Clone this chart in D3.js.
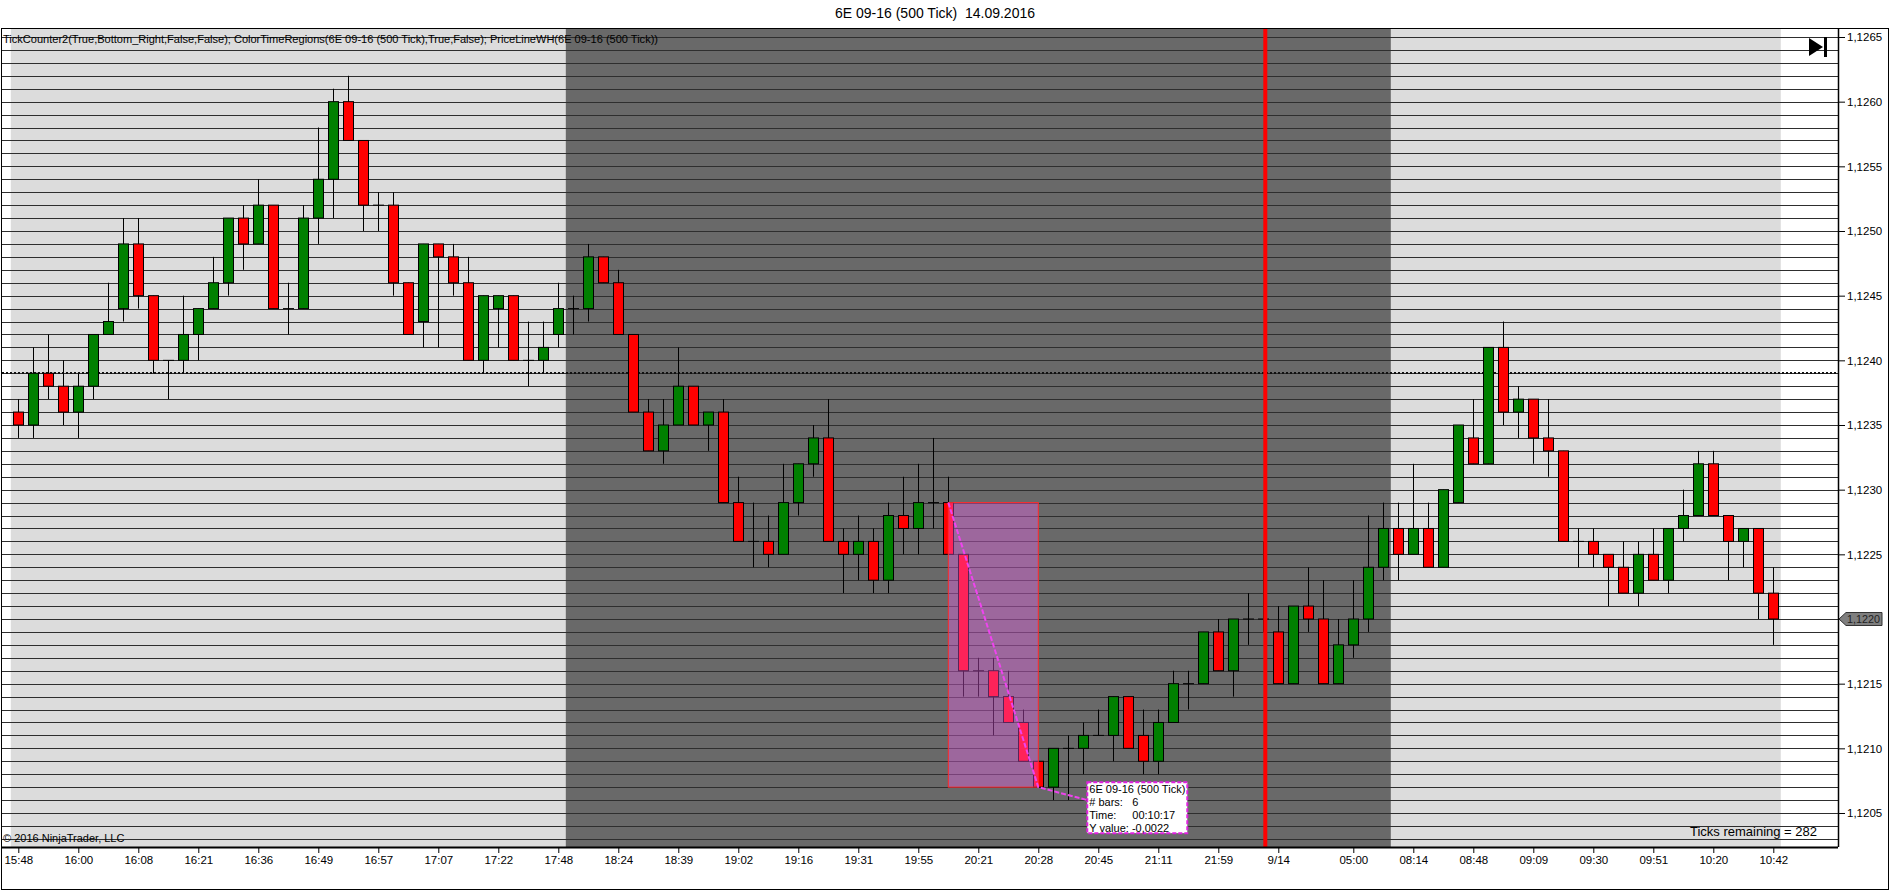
<!DOCTYPE html>
<html>
<head>
<meta charset="utf-8">
<script src="https://cdn.jsdelivr.net/npm/d3@7"></script>
<style>
  body { margin: 0; background: #fff; }
  svg text { font-family: "Liberation Sans", Arial, sans-serif; }
</style>
</head>
<body>
<svg id="chart" width="1892" height="892"></svg>
<script>
// 500 tick bars, 6E 09-16
const openPrices = [
  1.1236, 1.1235, 1.1239, 1.1238, 1.1236, 1.1238, 1.1242, 1.1244, 1.1249, 1.1245,
  1.1240, 1.1240, 1.1242, 1.1244, 1.1246, 1.1251, 1.1249, 1.1252, 1.1244, 1.1244,
  1.1251, 1.1254, 1.1260, 1.1257, 1.1252, 1.1252, 1.1246, 1.1243, 1.1249, 1.1248,
  1.1246, 1.1240, 1.1244, 1.1245, 1.1240, 1.1240, 1.1242, 1.1244, 1.1244, 1.1248,
  1.1246, 1.1242, 1.1236, 1.1233, 1.1235, 1.1238, 1.1235, 1.1236, 1.1229, 1.1226,
  1.1226, 1.1225, 1.1229, 1.1232, 1.1234, 1.1226, 1.1225, 1.1226, 1.1223, 1.1228,
  1.1227, 1.1229, 1.1229, 1.1225, 1.1216, 1.1216, 1.1214, 1.1212, 1.1209, 1.1207,
  1.1210, 1.1210, 1.1211, 1.1211, 1.1214, 1.1211, 1.1209, 1.1212, 1.1215, 1.1215,
  1.1219, 1.1216, 1.1220, 1.1220, 1.1219, 1.1215, 1.1221, 1.1220, 1.1215, 1.1218,
  1.1220, 1.1224, 1.1227, 1.1225, 1.1227, 1.1224, 1.1229, 1.1234, 1.1232, 1.1241,
  1.1236, 1.1237, 1.1234, 1.1233, 1.1226, 1.1226, 1.1225, 1.1224, 1.1222, 1.1225,
  1.1223, 1.1227, 1.1228, 1.1232, 1.1228, 1.1226, 1.1227, 1.1222
];
const highPrices = [
  1.1237, 1.1241, 1.1242, 1.1240, 1.1239, 1.1242, 1.1246, 1.1251, 1.1251, 1.1245,
  1.1240, 1.1245, 1.1244, 1.1248, 1.1251, 1.1252, 1.1254, 1.1252, 1.1246, 1.1252,
  1.1258, 1.1261, 1.1262, 1.1257, 1.1253, 1.1253, 1.1246, 1.1249, 1.1249, 1.1249,
  1.1248, 1.1245, 1.1245, 1.1245, 1.1243, 1.1243, 1.1246, 1.1245, 1.1249, 1.1248,
  1.1247, 1.1242, 1.1237, 1.1237, 1.1241, 1.1238, 1.1236, 1.1237, 1.1231, 1.1229,
  1.1228, 1.1232, 1.1232, 1.1235, 1.1237, 1.1227, 1.1228, 1.1227, 1.1229, 1.1231,
  1.1232, 1.1234, 1.1231, 1.1225, 1.1217, 1.1217, 1.1216, 1.1213, 1.1209, 1.1210,
  1.1211, 1.1212, 1.1213, 1.1214, 1.1214, 1.1213, 1.1213, 1.1216, 1.1216, 1.1219,
  1.1220, 1.1220, 1.1222, 1.1226, 1.1221, 1.1221, 1.1224, 1.1223, 1.1220, 1.1223,
  1.1228, 1.1229, 1.1229, 1.1232, 1.1229, 1.1230, 1.1235, 1.1237, 1.1241, 1.1243,
  1.1238, 1.1237, 1.1237, 1.1233, 1.1227, 1.1227, 1.1225, 1.1226, 1.1226, 1.1227,
  1.1227, 1.1230, 1.1233, 1.1233, 1.1228, 1.1227, 1.1227, 1.1224
];
const lowPrices = [
  1.1234, 1.1234, 1.1237, 1.1235, 1.1234, 1.1237, 1.1242, 1.1243, 1.1244, 1.1239,
  1.1237, 1.1239, 1.1240, 1.1244, 1.1245, 1.1247, 1.1249, 1.1244, 1.1242, 1.1244,
  1.1249, 1.1251, 1.1257, 1.1250, 1.1250, 1.1245, 1.1242, 1.1241, 1.1241, 1.1245,
  1.1240, 1.1239, 1.1241, 1.1240, 1.1238, 1.1239, 1.1241, 1.1242, 1.1243, 1.1246,
  1.1242, 1.1236, 1.1233, 1.1232, 1.1235, 1.1235, 1.1233, 1.1229, 1.1226, 1.1224,
  1.1224, 1.1225, 1.1228, 1.1231, 1.1226, 1.1222, 1.1223, 1.1222, 1.1222, 1.1225,
  1.1225, 1.1227, 1.1225, 1.1214, 1.1214, 1.1211, 1.1212, 1.1209, 1.1207, 1.1206,
  1.1206, 1.1208, 1.1211, 1.1209, 1.1210, 1.1208, 1.1208, 1.1212, 1.1213, 1.1215,
  1.1216, 1.1214, 1.1218, 1.1219, 1.1215, 1.1215, 1.1219, 1.1215, 1.1215, 1.1217,
  1.1219, 1.1223, 1.1223, 1.1225, 1.1224, 1.1224, 1.1229, 1.1232, 1.1232, 1.1235,
  1.1234, 1.1232, 1.1231, 1.1226, 1.1224, 1.1224, 1.1221, 1.1222, 1.1221, 1.1223,
  1.1222, 1.1226, 1.1228, 1.1228, 1.1223, 1.1224, 1.1220, 1.1218
];
const closePrices = [
  1.1235, 1.1239, 1.1238, 1.1236, 1.1238, 1.1242, 1.1243, 1.1249, 1.1245, 1.1240,
  1.1240, 1.1242, 1.1244, 1.1246, 1.1251, 1.1249, 1.1252, 1.1244, 1.1244, 1.1251,
  1.1254, 1.1260, 1.1257, 1.1252, 1.1252, 1.1246, 1.1242, 1.1249, 1.1248, 1.1246,
  1.1240, 1.1245, 1.1245, 1.1240, 1.1240, 1.1241, 1.1244, 1.1244, 1.1248, 1.1246,
  1.1242, 1.1236, 1.1233, 1.1235, 1.1238, 1.1235, 1.1236, 1.1229, 1.1226, 1.1226,
  1.1225, 1.1229, 1.1232, 1.1234, 1.1226, 1.1225, 1.1226, 1.1223, 1.1228, 1.1227,
  1.1229, 1.1229, 1.1225, 1.1216, 1.1216, 1.1214, 1.1212, 1.1209, 1.1207, 1.1210,
  1.1210, 1.1211, 1.1211, 1.1214, 1.1210, 1.1209, 1.1212, 1.1215, 1.1215, 1.1219,
  1.1216, 1.1220, 1.1220, 1.1220, 1.1215, 1.1221, 1.1220, 1.1215, 1.1218, 1.1220,
  1.1224, 1.1227, 1.1225, 1.1227, 1.1224, 1.1230, 1.1235, 1.1232, 1.1241, 1.1236,
  1.1237, 1.1234, 1.1233, 1.1226, 1.1226, 1.1225, 1.1224, 1.1222, 1.1225, 1.1223,
  1.1227, 1.1228, 1.1232, 1.1228, 1.1226, 1.1227, 1.1222, 1.1220
];

// x axis labels sit on these bar numbers
const xTickBars = [0, 4, 8, 12, 16, 20, 24, 28, 32, 36, 40, 44, 48, 52, 56, 60, 64, 68, 72, 76, 80,
  84, 89, 93, 97, 101, 105, 109, 113, 117];
const xTickLabels = ['15:48', '16:00', '16:08', '16:21', '16:36', '16:49', '16:57', '17:07', '17:22', '17:48',
  '18:24', '18:39', '19:02', '19:16', '19:31', '19:55', '20:21', '20:28', '20:45', '21:11', '21:59',
  '9/14', '05:00', '08:14', '08:48', '09:09', '09:30', '09:51', '10:20', '10:42'];
const yTicks = [1.1205, 1.1210, 1.1215, 1.1220, 1.1225, 1.1230, 1.1235, 1.1240, 1.1245, 1.1250, 1.1255, 1.1260, 1.1265];

// session shading (bar ranges), session break, ruler, price lines
const nightSession = [37, 91];
const sessionBreakBar = 83;
const rulerBars = [62, 68];
const rulerPrices = [1.1229, 1.1207];
const priceLine = 1.1239;
const lastPrice = 1.1220;
const tooltipLines = ['6E 09-16 (500 Tick)', '# bars:', 'Time:', 'Y value: -0,0022'];
const tooltipValues = ['', '6', '00:10:17', ''];

const bars = openPrices.map((o, i) => ({
  i: i, open: o, high: highPrices[i], low: lowPrices[i], close: closePrices[i]
}));

const plot = { left: 2, right: 1838, top: 28, bottom: 847 };
const svg = d3.select('#chart');

const x = d3.scaleLinear().domain([-0.5, bars.length - 0.5]).range([10.8, 1780.8]);
const y = d3.scaleLinear().domain([1.1205, 1.1265]).range([813, 37]);
const fmt = d => d.toFixed(4).replace('.', ',');

// title
svg.append('text')
  .attr('x', 935).attr('y', 18)
  .attr('text-anchor', 'middle')
  .style('font-size', '14px')
  .style('white-space', 'pre')
  .text('6E 09-16 (500 Tick)  14.09.2016');

// background regions
svg.append('rect')
  .attr('x', x(-0.5)).attr('y', plot.top)
  .attr('width', x(bars.length - 0.5) - x(-0.5)).attr('height', plot.bottom - plot.top)
  .attr('fill', '#dcdcdc');
svg.append('rect')
  .attr('x', x(nightSession[0] - 0.5)).attr('y', plot.top)
  .attr('width', x(nightSession[1] + 0.5) - x(nightSession[0] - 0.5)).attr('height', plot.bottom - plot.top)
  .attr('fill', '#696969');

// one grid line per pip
const gridPrices = d3.range(11203, 11266).map(v => v / 10000);
svg.selectAll('line.grid')
  .data(gridPrices)
  .enter()
  .append('line')
  .attr('class', 'grid')
  .attr('x1', plot.left).attr('x2', plot.right)
  .attr('y1', d => Math.round(y(d)) + 0.5).attr('y2', d => Math.round(y(d)) + 0.5)
  .attr('stroke', '#2e2e2e')
  .attr('stroke-width', 1);

svg.append('line')
  .attr('x1', plot.left).attr('x2', plot.right)
  .attr('y1', Math.round(y(priceLine))).attr('y2', Math.round(y(priceLine)))
  .attr('stroke', '#111')
  .attr('stroke-width', 2)
  .attr('stroke-dasharray', '2,2');

// candles
const candles = svg.append('g');
candles.selectAll('line.wick')
  .data(bars)
  .enter()
  .append('line')
  .attr('class', 'wick')
  .attr('x1', d => Math.round(x(d.i)) + 0.5).attr('x2', d => Math.round(x(d.i)) + 0.5)
  .attr('y1', d => y(d.high)).attr('y2', d => y(d.low))
  .attr('stroke', '#000');

candles.selectAll('rect.body')
  .data(bars.filter(d => d.open !== d.close))
  .enter()
  .append('rect')
  .attr('class', 'body')
  .attr('x', d => Math.round(x(d.i)) - 4.5)
  .attr('y', d => y(Math.max(d.open, d.close)))
  .attr('width', 10)
  .attr('height', d => Math.abs(y(d.open) - y(d.close)))
  .attr('fill', d => d.close > d.open ? '#008000' : '#ff0000')
  .attr('stroke', '#000')
  .attr('stroke-width', 1);

candles.selectAll('line.doji')
  .data(bars.filter(d => d.open === d.close))
  .enter()
  .append('line')
  .attr('class', 'doji')
  .attr('x1', d => Math.round(x(d.i)) - 5).attr('x2', d => Math.round(x(d.i)) + 6)
  .attr('y1', d => y(d.close)).attr('y2', d => y(d.close))
  .attr('stroke', '#000');

// session break
svg.append('line')
  .attr('x1', x(sessionBreakBar) + 2).attr('x2', x(sessionBreakBar) + 2)
  .attr('y1', plot.top).attr('y2', plot.bottom)
  .attr('stroke', '#f00')
  .attr('stroke-width', 4);

// ruler drawing
const rx0 = x(rulerBars[0]), rx1 = x(rulerBars[1]);
const ry0 = y(rulerPrices[0]), ry1 = y(rulerPrices[1]);
svg.append('rect')
  .attr('x', rx0).attr('y', ry0)
  .attr('width', rx1 - rx0).attr('height', ry1 - ry0)
  .attr('fill', 'rgba(255,100,255,0.35)')
  .attr('stroke', '#ff2a2a')
  .attr('stroke-width', 1);

const tipX = rx1 + 49, tipY = ry1 - 5;
svg.append('polyline')
  .attr('points', [[rx0, ry0], [rx1, ry1], [tipX, ry1 + 13]].map(p => p.join(',')).join(' '))
  .attr('fill', 'none')
  .attr('stroke', '#ee44ee')
  .attr('stroke-width', 2)
  .attr('stroke-dasharray', '5,2');

svg.append('rect')
  .attr('x', tipX).attr('y', tipY)
  .attr('width', 100).attr('height', 51)
  .attr('fill', '#fff')
  .attr('stroke', '#e020e0')
  .attr('stroke-width', 2)
  .attr('stroke-dasharray', '4,2');

svg.selectAll('text.tip')
  .data(tooltipLines)
  .enter()
  .append('text')
  .attr('class', 'tip')
  .attr('x', tipX + 2)
  .attr('y', (d, i) => tipY + 11 + i * 13)
  .style('font-size', '11px')
  .text(d => d);
svg.selectAll('text.tipval')
  .data(tooltipValues)
  .enter()
  .append('text')
  .attr('class', 'tipval')
  .attr('x', tipX + 45)
  .attr('y', (d, i) => tipY + 11 + i * 13)
  .style('font-size', '11px')
  .text(d => d);

// texts inside the panel
svg.append('text')
  .attr('x', 3).attr('y', 43)
  .attr('textLength', 655)
  .attr('lengthAdjust', 'spacingAndGlyphs')
  .style('font-size', '11px')
  .text('TickCounter2(True,Bottom_Right,False,False); ColorTimeRegions(6E 09-16 (500 Tick),True,False); PriceLineWH(6E 09-16 (500 Tick))');

svg.append('text')
  .attr('x', 3).attr('y', 842)
  .style('font-size', '11px')
  .text('\u00a9 2016 NinjaTrader, LLC');

svg.append('text')
  .attr('x', 1817).attr('y', 836)
  .attr('text-anchor', 'end')
  .style('font-size', '13px')
  .text('Ticks remaining = 282');

// "go to end" icon
svg.append('path')
  .attr('d', 'M1809,38 L1823,47 L1809,56 Z')
  .attr('fill', '#000');
svg.append('rect')
  .attr('x', 1824).attr('y', 37).attr('width', 3).attr('height', 20)
  .attr('fill', '#000');

// axes
const yAxis = d3.axisRight(y)
  .tickValues(yTicks)
  .tickFormat(fmt)
  .tickSize(7)
  .tickPadding(2);
const gy = svg.append('g')
  .attr('transform', `translate(${plot.right},0)`)
  .call(yAxis);
gy.select('.domain').remove();
gy.selectAll('text').style('font-size', '11.5px').attr('fill', '#000');

const xAxis = d3.axisBottom(x)
  .tickValues(xTickBars)
  .tickFormat((d, i) => xTickLabels[i])
  .tickSize(6)
  .tickPadding(3);
const gx = svg.append('g')
  .attr('transform', `translate(0,${plot.bottom})`)
  .call(xAxis);
gx.select('.domain').remove();
gx.selectAll('text').style('font-size', '11.5px').attr('fill', '#000');

// last price marker
const ly = y(lastPrice);
svg.append('path')
  .attr('d', `M${plot.right + 1},${ly} L${plot.right + 8},${ly - 6.5} L${plot.right + 44},${ly - 6.5} L${plot.right + 44},${ly + 6.5} L${plot.right + 8},${ly + 6.5} Z`)
  .attr('fill', '#7f7f7f')
  .attr('stroke', '#333');
svg.append('text')
  .attr('x', plot.right + 9).attr('y', ly + 4)
  .attr('textLength', 33)
  .attr('lengthAdjust', 'spacingAndGlyphs')
  .style('font-size', '11px')
  .attr('fill', '#222')
  .text(fmt(lastPrice));

// frame
svg.append('rect')
  .attr('x', 1.5).attr('y', plot.top + 0.5)
  .attr('width', 1887).attr('height', 861)
  .attr('fill', 'none')
  .attr('stroke', '#000');
svg.append('line')
  .attr('x1', 1).attr('x2', plot.right)
  .attr('y1', plot.bottom + 0.5).attr('y2', plot.bottom + 0.5)
  .attr('stroke', '#000').attr('stroke-width', 2);
svg.append('line')
  .attr('x1', plot.right + 0.5).attr('x2', plot.right + 0.5)
  .attr('y1', plot.top).attr('y2', plot.bottom)
  .attr('stroke', '#000').attr('stroke-width', 1.5);
</script>
</body>
</html>
